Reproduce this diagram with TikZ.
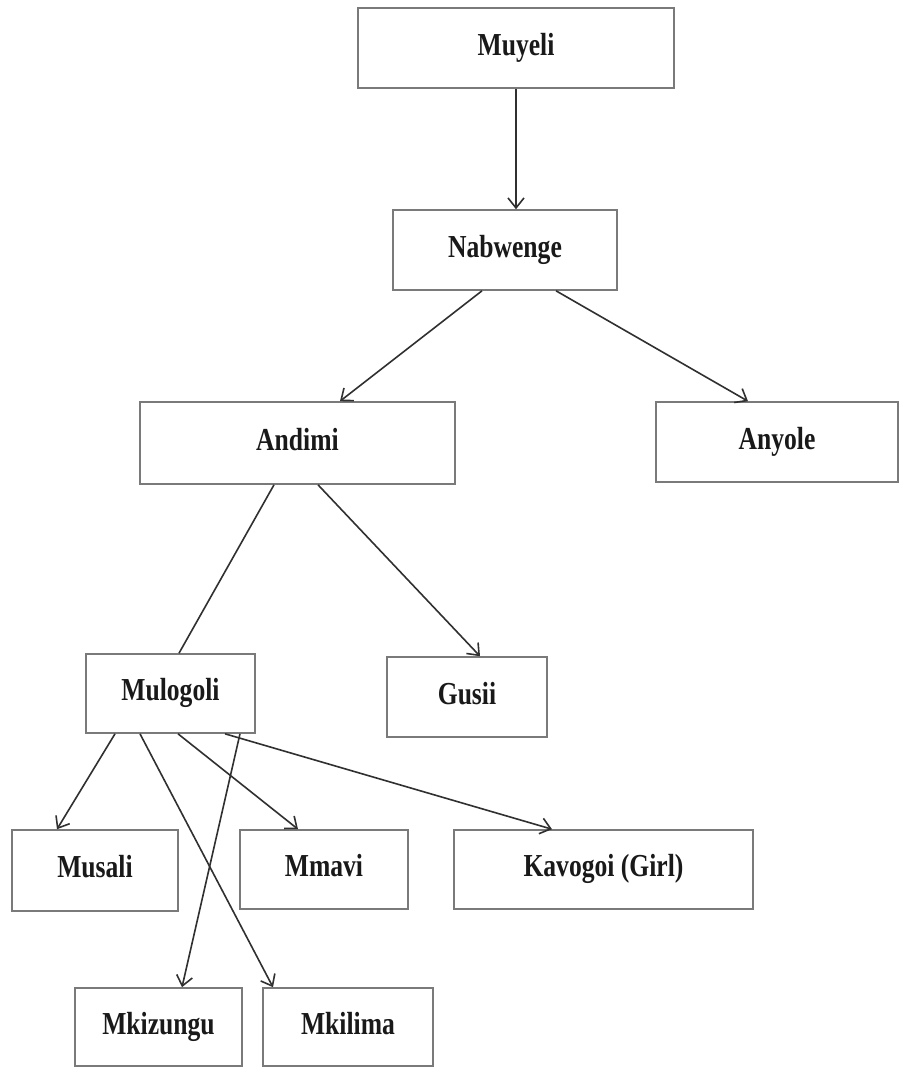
\documentclass[tikz,border=0pt]{standalone}
\usepackage{fontspec}
\setmainfont[FakeStretch=0.8]{Liberation Serif}
\usetikzlibrary{arrows.meta}
\definecolor{boxgray}{HTML}{7A7A7A}
\definecolor{linegray}{HTML}{303030}
\begin{document}
\begin{tikzpicture}[x=1pt,y=-1pt,
  box/.style={draw=boxgray,line width=1.6pt,rectangle,inner sep=0pt,
    text height=23pt,text depth=9pt,
    font=\fontsize{32}{38}\selectfont\bfseries,text=black!90},
  conn/.style={draw=linegray,line width=1.6pt},
  arr/.style={conn,-{Straight Barb[length=10pt,width=16pt,line width=1.6pt]}}]
\useasboundingbox (0,0) rectangle (899,1068);
\fill[white] (0,0) rectangle (899,1068);
\node[box,minimum width=316pt,minimum height=80pt] (muyeli) at (516,48) {Muyeli};
\node[box,minimum width=224pt,minimum height=80pt] (nabwenge) at (505,250) {Nabwenge};
\node[box,minimum width=315pt,minimum height=82pt] (andimi) at (297.5,443) {Andimi};
\node[box,minimum width=242pt,minimum height=80pt] (anyole) at (777,442) {Anyole};
\node[box,minimum width=169pt,minimum height=79pt] (mulogoli) at (170.5,693.5) {Mulogoli};
\node[box,minimum width=160pt,minimum height=80pt] (gusii) at (467,697) {Gusii};
\node[box,minimum width=166pt,minimum height=81pt] (musali) at (95,870.5) {Musali};
\node[box,minimum width=168pt,minimum height=79pt] (mmavi) at (324,869.5) {Mmavi};
\node[box,minimum width=299pt,minimum height=79pt] (kavogoi) at (603.5,869.5) {Kavogoi (Girl)};
\node[box,minimum width=167pt,minimum height=78pt] (mkizungu) at (158.5,1027) {Mkizungu};
\node[box,minimum width=170pt,minimum height=78pt] (mkilima) at (348,1027) {Mkilima};

\draw[arr] (muyeli.south) -- ([xshift=11pt]nabwenge.north);
\draw[arr] ([xshift=-23pt]nabwenge.south) -- ([xshift=42.5pt]andimi.north);
\draw[arr] ([xshift=51pt]nabwenge.south) -- ([xshift=-29pt]anyole.north);
\draw[conn] ([xshift=-23.5pt]andimi.south) -- ([xshift=8.5pt]mulogoli.north);
\draw[arr] ([xshift=20.5pt]andimi.south) -- ([xshift=13pt]gusii.north);
\draw[arr] ([xshift=-55.5pt]mulogoli.south) -- ([xshift=-38pt]musali.north);
\draw[arr] ([xshift=-30.5pt]mulogoli.south) -- ([xshift=-75pt]mkilima.north);
\draw[arr] ([xshift=7.5pt]mulogoli.south) -- ([xshift=-26pt]mmavi.north);
\draw[arr] ([xshift=69.5pt]mulogoli.south) -- ([xshift=23.5pt]mkizungu.north);
\draw[arr] ([xshift=54.5pt]mulogoli.south) -- ([xshift=-51.5pt]kavogoi.north);
\end{tikzpicture}
\end{document}
